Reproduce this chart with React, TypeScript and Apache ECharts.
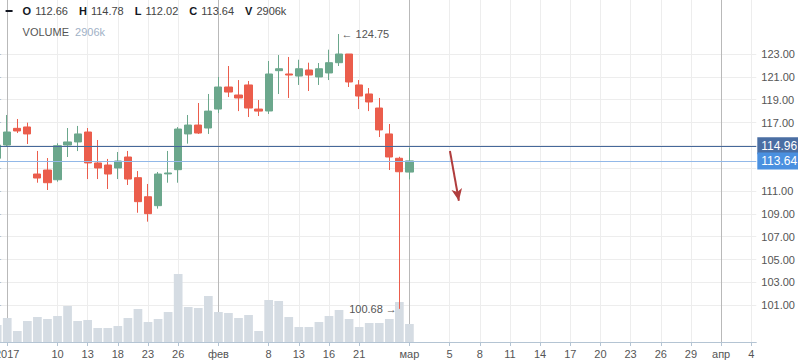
import React, { useEffect, useRef } from 'react';
import * as echarts from 'echarts';

// ---- data ----
const dates = [
  '2016-12-30',
  '2017-01-03', '2017-01-04', '2017-01-05', '2017-01-06', '2017-01-09', '2017-01-10', '2017-01-11',
  '2017-01-12', '2017-01-13', '2017-01-16', '2017-01-17', '2017-01-18', '2017-01-19', '2017-01-20',
  '2017-01-23', '2017-01-24', '2017-01-25', '2017-01-26', '2017-01-27', '2017-01-30', '2017-01-31',
  '2017-02-01', '2017-02-02', '2017-02-03', '2017-02-06', '2017-02-07', '2017-02-08', '2017-02-09',
  '2017-02-10', '2017-02-13', '2017-02-14', '2017-02-15', '2017-02-16', '2017-02-17', '2017-02-20',
  '2017-02-21', '2017-02-22', '2017-02-24', '2017-02-27', '2017-02-28',
  '2017-03-01',
];
const opens = [
  113.87, 115.03, 116.49, 116.61, 112.49, 112.84, 111.99, 115.03, 115.3, 116.17, 113.46, 113.28,
  113.02, 113.98, 112.17, 110.5, 109.72, 112.5, 112.87, 116.0, 116.78, 116.52, 118.18, 120.11,
  119.41, 120.29, 118.18, 118.01, 121.54, 121.25, 121.07, 121.6, 120.99, 121.34, 122.24, 123.0,
  120.29, 119.5, 118.27, 116.0, 113.87, 112.66,
];
const closes = [
  115.03, 116.17, 116.26, 116.0, 112.14, 111.73, 114.97, 115.3, 116.0, 113.46, 113.02, 112.49,
  113.63, 112.05, 110.07, 109.02, 112.49, 112.58, 116.43, 116.78, 116.08, 118.0, 120.11, 119.67,
  119.15, 118.27, 118.0, 121.25, 121.71, 121.16, 121.71, 121.16, 121.71, 122.24, 123.0, 120.55,
  119.32, 118.8, 116.35, 113.98, 112.69, 113.64,
];
const lows = [
  113.6, 114.9, 116.08, 115.12, 111.73, 111.09, 111.82, 113.98, 114.5, 112.05, 112.05, 111.18,
  112.05, 111.53, 109.1, 108.32, 109.46, 111.73, 111.73, 115.15, 116.0, 116.0, 117.83, 119.23,
  118.0, 117.48, 117.57, 117.75, 119.5, 119.15, 120.29, 119.76, 120.29, 120.72, 121.95, 120.11,
  118.18, 118.0, 115.73, 112.84, 100.68, 112.02,
];
const highs = [
  115.3, 117.66, 117.31, 116.99, 114.51, 113.89, 115.18, 116.52, 116.7, 116.52, 115.47, 113.81,
  114.42, 114.51, 112.75, 111.62, 112.67, 114.51, 116.6, 117.66, 118.71, 119.5, 120.99, 121.95,
  120.72, 120.64, 118.97, 122.39, 122.91, 122.74, 122.5, 122.24, 122.21, 123.38, 124.75, 123.0,
  120.72, 120.02, 119.15, 116.87, 114.0, 114.78,
];
// volume in thousands
const volumes = [
  2744, 3875, 1776, 3390, 4036, 3713, 4198, 5812, 3390, 3552, 2260, 2260, 2583, 3875, 5328, 3229,
  3713, 4843, 10978, 5651, 5489, 7426, 4843, 4682, 3875, 4359, 1776, 6781, 6619, 4036, 2422, 2422,
  3229, 4198, 5166, 3713, 2422, 3067, 3067, 3713, 6458, 2906,
];
const referencePrice = 114.96;

const tickDates = [
  '2017-01-03', '2017-01-10', '2017-01-13', '2017-01-18', '2017-01-23', '2017-01-26', '2017-02-01',
  '2017-02-08', '2017-02-13', '2017-02-16', '2017-02-21', '2017-03-01', '2017-03-05', '2017-03-08',
  '2017-03-11', '2017-03-14', '2017-03-17', '2017-03-20', '2017-03-23', '2017-03-26', '2017-03-29',
  '2017-04-01', '2017-04-04',
];
const tickLabels = [
  '2017', '10', '13', '18', '23', '26', 'фев', '8', '13', '16', '21', 'мар', '5', '8', '11', '14',
  '17', '20', '23', '26', '29', 'апр', '4',
];
const monthDates = ['2017-01-03', '2017-02-01', '2017-03-01', '2017-04-01'];
const priceTicks = [101, 103, 105, 107, 109, 111, 113, 115, 117, 119, 121, 123];

// forecast arrow, in (slot position, price)
const arrowFrom = [45.03, 114.51];
const arrowTo = [45.92, 110.15];

// ---- derived ----
const futureDates: string[] = [];
{
  const d = new Date(Date.UTC(2017, 2, 2));
  const end = Date.UTC(2017, 3, 4);
  while (d.getTime() <= end) {
    futureDates.push(d.toISOString().slice(0, 10));
    d.setUTCDate(d.getUTCDate() + 1);
  }
}
const allDates = [...dates, ...futureDates];
const slot = (d: string) => allDates.indexOf(d);
const tickIdx = tickDates.map(slot);
const monthIdx = monthDates.map(slot);
const labelMap: Record<number, string> = {};
tickIdx.forEach((v, i) => (labelMap[v] = tickLabels[i]));

const candleData = dates.map((_, i) => [i, opens[i], closes[i], lows[i], highs[i]]);
const volData = dates.map((_, i) => [i, volumes[i]]);
const last = dates.length - 1;
const maxHigh = Math.max(...highs);
const maxIdx = highs.indexOf(maxHigh);
const minLow = Math.min(...lows);
const minIdx = lows.indexOf(minLow);
// axis labels hidden behind the price tags
const priceLabels = priceTicks.filter(
  (v) => Math.abs(v - referencePrice) > 1.2 && Math.abs(v - closes[last]) > 1.2
);

const UP = '#6ba78c';
const DOWN = '#eb5d4c';
const FONT = 'Liberation Sans, Arial, sans-serif';
const AXIS = '#b4c4d3';
const GRIDC = '#ededed';
const X_MIN = -0.5;
const X_MAX = allDates.length - 0.5;
// the first (partial) bar is cut by the left edge of the page
const SHIFT = 7.58;

export default function App() {
  const ref = useRef<HTMLDivElement>(null);
  useEffect(() => {
    if (!ref.current) return;
    const chart = echarts.init(ref.current, undefined, { renderer: 'svg' });
    const fmt = (v: number) => v.toFixed(2);
    const pairs: [string, string][] = [
      ['O', fmt(opens[last])],
      ['H', fmt(highs[last])],
      ['L', fmt(lows[last])],
      ['C', fmt(closes[last])],
      ['V', volumes[last] + 'k'],
    ];
    const headerText = pairs.map(([k, v]) => `{b|${k}}{n|${v}}`).join('');
    chart.setOption({
      animation: false,
      textStyle: { fontFamily: FONT },
      grid: { left: 0, top: 0, right: 41.7, bottom: 21, containLabel: false },
      xAxis: [
        {
          type: 'value',
          min: X_MIN,
          max: X_MAX,
          position: 'bottom',
          axisLine: { show: true, lineStyle: { color: AXIS } },
          axisTick: { show: true, length: 4, customValues: tickIdx, lineStyle: { color: AXIS } },
          axisLabel: {
            customValues: tickIdx,
            formatter: (v: number) => labelMap[Math.round(v)] ?? '',
            color: '#555',
            fontSize: 11,
            margin: 6,
            fontFamily: FONT,
          },
          splitLine: { show: true, lineStyle: { color: GRIDC } },
        },
        {
          type: 'value',
          min: X_MIN,
          max: X_MAX,
          axisLine: { show: false },
          axisTick: { show: false, customValues: monthIdx },
          axisLabel: { show: false },
          splitLine: { show: true, lineStyle: { color: '#b9b9b9' } },
        },
      ],
      yAxis: [
        {
          type: 'value',
          position: 'right',
          min: 97.78,
          max: 127.73,
          axisLine: { show: true, lineStyle: { color: AXIS } },
          axisTick: { show: true, length: 4, customValues: priceTicks, lineStyle: { color: AXIS } },
          axisLabel: {
            customValues: priceLabels,
            formatter: (v: number) => fmt(v),
            color: '#555',
            fontSize: 11,
            margin: 5,
            fontFamily: FONT,
          },
          splitLine: { show: true, lineStyle: { color: GRIDC } },
        },
        { type: 'value', min: 0, max: 55200, show: false },
      ],
      series: [
        {
          type: 'bar',
          xAxisIndex: 0,
          yAxisIndex: 1,
          data: volData,
          barWidth: 8.7,
          itemStyle: { color: '#d5dce3' },
          z: 1,
          silent: true,
        },
        {
          type: 'candlestick',
          xAxisIndex: 0,
          yAxisIndex: 0,
          data: candleData,
          barWidth: 7.7,
          z: 3,
          silent: true,
          itemStyle: {
            color: UP,
            color0: DOWN,
            borderColor: UP,
            borderColor0: DOWN,
            borderWidth: 1,
          },
          markLine: {
            silent: true,
            symbol: 'none',
            animation: false,
            data: [
              {
                yAxis: referencePrice,
                lineStyle: { color: '#46689a', width: 1, type: 'solid' },
                label: {
                  show: true,
                  position: 'end',
                  distance: 1,
                  formatter: fmt(referencePrice),
                  backgroundColor: '#4a6ea3',
                  color: '#fff',
                  fontSize: 12,
                  lineHeight: 13,
                  padding: [2, 6, 2, 4],
                  fontFamily: FONT,
                },
              },
              {
                yAxis: closes[last],
                lineStyle: { color: '#92b8e8', width: 1, type: 'solid' },
                label: {
                  show: true,
                  position: 'end',
                  distance: 1,
                  formatter: fmt(closes[last]),
                  backgroundColor: '#4a90e0',
                  color: '#fff',
                  fontSize: 12,
                  lineHeight: 13,
                  padding: [4, 6, 0, 4],
                  fontFamily: FONT,
                },
              },
            ],
          },
          markPoint: {
            silent: true,
            symbol: 'circle',
            symbolSize: 1,
            itemStyle: { color: 'rgba(0,0,0,0)' },
            data: [
              {
                coord: [maxIdx, maxHigh],
                label: {
                  show: true,
                  position: 'right',
                  distance: 2,
                  formatter: '← ' + fmt(maxHigh),
                  color: '#555',
                  fontSize: 11,
                  fontFamily: FONT,
                },
              },
              {
                coord: [minIdx, minLow],
                label: {
                  show: true,
                  position: 'left',
                  distance: 2,
                  formatter: fmt(minLow) + ' →',
                  color: '#555',
                  fontSize: 11,
                  fontFamily: FONT,
                },
              },
            ],
          },
        },
        {
          type: 'line',
          xAxisIndex: 0,
          yAxisIndex: 0,
          data: [],
          silent: true,
          markLine: {
            silent: true,
            animation: false,
            symbol: ['none', 'arrow'],
            symbolSize: [8, 12],
            label: { show: false },
            lineStyle: { color: '#b03d3d', width: 2, type: 'solid' },
            data: [[{ coord: arrowFrom }, { coord: arrowTo }]],
          },
        },
      ],
      graphic: [
        {
          type: 'rect',
          silent: true,
          z: 10,
          shape: { x: 6 + SHIFT, y: 10, width: 7, height: 2 },
          style: { fill: '#131722' },
        },
        {
          type: 'text',
          x: 23 + SHIFT,
          y: 11,
          z: 10,
          silent: true,
          style: {
            text: headerText,
            verticalAlign: 'middle',
            font: `11px ${FONT}`,
            rich: {
              b: { fontWeight: 'bold', fontSize: 11, fontFamily: FONT, fill: '#131722', padding: [0, 4, 0, 0] },
              n: { fontSize: 11, fontFamily: FONT, fill: '#444', padding: [0, 11, 0, 0] },
            },
          },
        },
        {
          type: 'text',
          x: 23 + SHIFT,
          y: 32,
          z: 10,
          silent: true,
          style: {
            text: `{g|VOLUME}{v|${volumes[last]}k}`,
            verticalAlign: 'middle',
            font: `11px ${FONT}`,
            rich: {
              g: { fontSize: 11, fontFamily: FONT, fill: '#555', padding: [0, 6, 0, 0] },
              v: { fontSize: 11, fontFamily: FONT, fill: '#9fb1c6' },
            },
          },
        },
      ],
    });
    return () => chart.dispose();
  }, []);
  return (
    <div
      ref={ref}
      style={{
        position: 'absolute',
        left: -SHIFT,
        top: 0,
        width: 798 + SHIFT,
        height: 363,
        background: '#fff',
      }}
    />
  );
}
